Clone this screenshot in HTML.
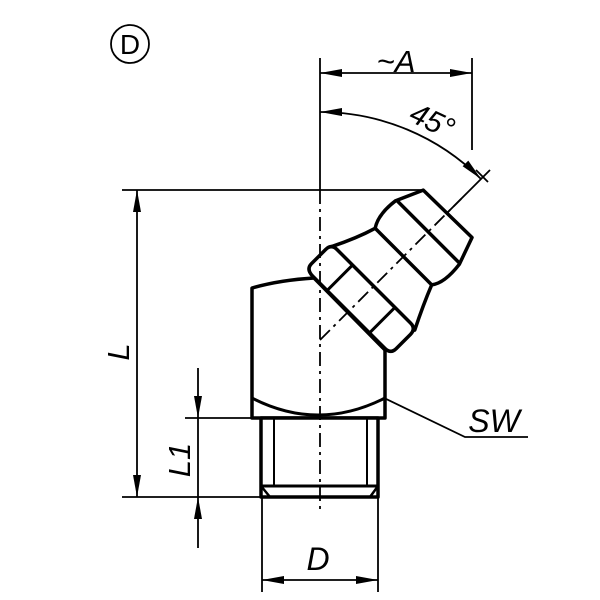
<!DOCTYPE html>
<html><head><style>html,body{margin:0;padding:0;background:#fff}svg{display:block}text{font-family:"Liberation Sans",sans-serif;font-style:italic;fill:#000}</style></head>
<body>
<svg width="600" height="600" viewBox="0 0 600 600" xmlns="http://www.w3.org/2000/svg">
<defs>
<marker id="ar" viewBox="0 0 22 8" refX="22" refY="4" markerWidth="22" markerHeight="8" markerUnits="userSpaceOnUse" orient="auto-start-reverse"><path d="M0,0 L22,4 L0,8 Z" fill="#000"/></marker>
</defs>
<circle cx="130" cy="44" r="19" fill="none" stroke="#000" stroke-width="1.8"/>
<text x="130" y="54" font-size="28" text-anchor="middle" style="font-style:normal">D</text>

<g stroke="#000" fill="none" stroke-width="1.8">
<line x1="320" y1="58" x2="320" y2="190"/>
<line x1="472" y1="58" x2="472" y2="150"/>
<line x1="122" y1="190" x2="423" y2="190"/>
<line x1="122" y1="497" x2="262" y2="497"/>
<line x1="185" y1="418" x2="252" y2="418"/>
<line x1="262" y1="497" x2="262" y2="592"/>
<line x1="378" y1="497" x2="378" y2="592"/>
<line x1="320" y1="73" x2="472" y2="73" marker-start="url(#ar)" marker-end="url(#ar)"/>
<path d="M320,112 A228,228 0 0 1 481,179" marker-start="url(#ar)" marker-end="url(#ar)"/>
<line x1="137" y1="190" x2="137" y2="497" marker-start="url(#ar)" marker-end="url(#ar)"/>
<line x1="198" y1="368" x2="198" y2="418" marker-end="url(#ar)"/>
<line x1="198" y1="418" x2="198" y2="497"/>
<line x1="198" y1="548" x2="198" y2="497" marker-end="url(#ar)"/>
<line x1="262" y1="580" x2="378" y2="580" marker-start="url(#ar)" marker-end="url(#ar)"/>
<polyline points="357,385 465,437 528,437"/>
<line x1="320" y1="340" x2="490" y2="170"/>
<line x1="476" y1="170" x2="488" y2="182"/>
</g>

<g stroke="#000" stroke-width="3.5" fill="#fff" stroke-linejoin="round">
<path d="M252,288 Q280,280 314,278 L385,350 L385,418 L252,418 Z"/>
<path d="M252,398 Q318,432 385,398" fill="none" stroke-width="3"/>
<rect x="261" y="418" width="117" height="79" fill="#fff"/>
<path d="M261,486 L270,497 L370,497 L378,486 Z" fill="none" stroke-width="2.5"/>
<line x1="274" y1="418" x2="274" y2="486" stroke-width="2"/>
<line x1="367" y1="418" x2="367" y2="486" stroke-width="2"/>
<line x1="261" y1="486" x2="378" y2="486" stroke-width="3"/>
</g>

<g transform="translate(320,340) rotate(-45)" stroke="#000" stroke-width="3.5" fill="#fff" stroke-linejoin="round">
<path d="M74,-58 Q98,-46 118,-40 Q130,-48 152,-45 L179,-33 L180,35 L152,45 Q128,48 118,40 Q98,48 74,60 Z"/>
<line x1="118" y1="-40" x2="118" y2="40"/>
<line x1="153" y1="-45" x2="153" y2="45"/>
<path d="M40,-50 Q40,-60 48,-60 L68,-60 Q76,-60 76,-52 L76,52 Q76,60 68,60 L48,60 Q40,60 40,52 Z"/>
<line x1="40" y1="-30" x2="76" y2="-30" stroke-width="3"/>
<line x1="40" y1="30" x2="76" y2="30" stroke-width="3"/>
<line x1="0" y1="0" x2="200" y2="0" stroke-width="1.8" stroke-dasharray="14,5,3,5" fill="none"/>
</g>

<line x1="320" y1="190" x2="320" y2="512" stroke="#000" stroke-width="1.8" stroke-dasharray="14,5,3,5"/>

<text x="396" y="72" font-size="31" text-anchor="middle">~A</text>
<text x="0" y="0" font-size="30" text-anchor="middle" transform="translate(428,130) rotate(25)">45°</text>
<text x="0" y="0" font-size="31" text-anchor="middle" transform="translate(129,352) rotate(-90)">L</text>
<text x="0" y="0" font-size="31" text-anchor="middle" transform="translate(190,460) rotate(-90)">L1</text>
<text x="318" y="570" font-size="32" text-anchor="middle">D</text>
<text x="494" y="432" font-size="32" text-anchor="middle">SW</text>
</svg>
</body></html>
